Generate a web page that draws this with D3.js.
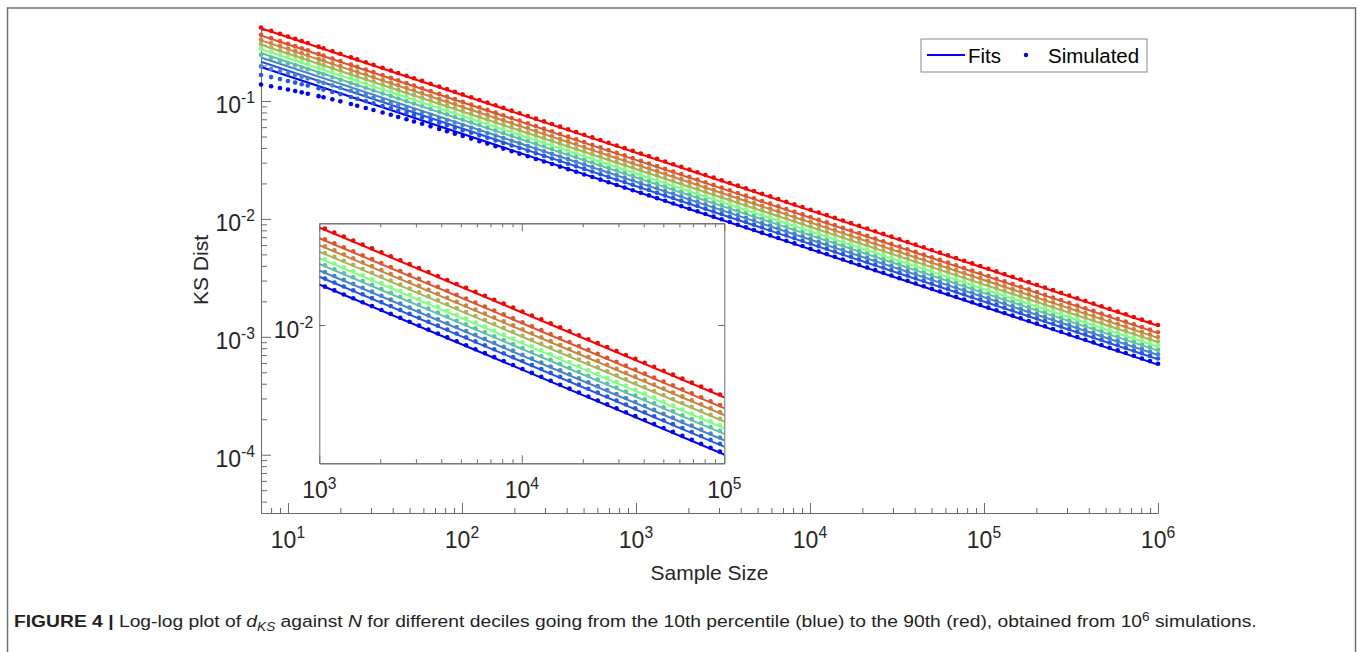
<!DOCTYPE html>
<html><head><meta charset="utf-8">
<script src="https://cdn.jsdelivr.net/npm/d3@7"></script>
<style>
body{margin:0;background:#fff;}
svg{display:block;}
text{font-family:"Liberation Sans",Arial,Helvetica,sans-serif;fill:#262626;}
</style></head><body>
<svg id="chart" width="1357" height="652"></svg>
<script>
// ---------------- data ----------------
const sampleSizes = [7,8,9,10,11,12,13,15,16,18,20,23,25,28,31,35,39,43,48,53,59,66,74,82,91,101,113,126,140,156,173,193,214,239,266,296,329,366,407,453,504,561,625,695,774,861,958,1066,1187,1321,1470,1636,1820,2026,2254,2509,2792,3107,3458,3848,4282,4766,5304,5902,6568,7310,8135,9053,10075,11212,12477,13885,15452,17196,19137,21297,23701,26376,29353,32666,36353,40456,45022,50104,55759,62052,69056,76850,85524,95177,105920,117870,131180,145980,162460,180790,201200,223910,249180,277300,308600,343400,382200,425300,473300,526700,586200,652300,726000,807900,899100,1000000];

const decileNames = ["10th","20th","30th","40th","50th","60th","70th","80th","90th"];
const decileColors = ["#0000ff","#2457e6","#4785c8","#5cbfa6","#80ff80","#aab35c","#c9853f","#e0532c","#ff0000"];

// fitted power laws, read at the two ends of the N range
const fitN = [7, 1000000];
const fitAtMinN = [0.194,0.215,0.234,0.255,0.275,0.300,0.327,0.359,0.414];
const fitAtMaxN = [5.81e-4,6.45e-4,7.01e-4,7.63e-4,8.23e-4,8.99e-4,9.80e-4,1.074e-3,1.240e-3];

// simulated deciles, stored as sqrt(N) * d_KS
const sim10 = [.365,.377,.387,.396,.403,.410,.416,.426,.430,.438,.444,.452,.456,.462,.467,.472,.477,.480,.485,.488,.492,.495,.499,.502,.504,.507,.510,.512,.515,.517,.519,.521,.523,.525,.526,.528,.530,.531,.533,.534,.535,.537,.538,.539,.540,.541,.542,.543,.545,.545,.547,.547,.548,.549,.550,.551,.552,.553,.553,.554,.555,.556,.557,.557,.558,.558,.559,.560,.560,.561,.562,.563,.563,.564,.565,.565,.566,.567,.567,.568,.569,.570,.570,.571,.572,.572,.573,.574,.574,.575,.575,.577,.577,.578,.579,.579,.580,.581,.581,.582,.583,.584,.584,.585,.586,.586,.587,.588,.588,.589,.590,.590];
const sim20 = [.439,.451,.460,.468,.475,.481,.487,.496,.500,.506,.512,.519,.523,.528,.533,.537,.542,.545,.549,.552,.555,.559,.562,.564,.567,.569,.572,.574,.576,.578,.580,.582,.584,.586,.587,.589,.590,.592,.593,.594,.596,.597,.598,.599,.601,.602,.603,.604,.605,.606,.607,.608,.609,.610,.611,.612,.612,.613,.614,.615,.616,.617,.618,.618,.619,.620,.620,.621,.622,.622,.623,.624,.625,.626,.627,.627,.628,.629,.629,.630,.631,.632,.633,.633,.634,.635,.636,.636,.637,.638,.638,.640,.640,.641,.642,.642,.643,.644,.645,.645,.646,.647,.648,.648,.649,.650,.650,.651,.652,.653,.653,.654];
const sim30 = [.520,.529,.537,.544,.550,.555,.560,.567,.570,.576,.580,.586,.589,.594,.597,.601,.604,.607,.611,.613,.616,.619,.621,.624,.626,.628,.630,.632,.634,.635,.637,.639,.640,.642,.643,.645,.646,.647,.649,.650,.651,.652,.653,.655,.656,.657,.658,.659,.660,.661,.662,.663,.664,.664,.665,.666,.667,.668,.669,.670,.670,.672,.673,.674,.674,.675,.676,.677,.677,.678,.679,.680,.681,.682,.682,.683,.684,.685,.686,.686,.687,.688,.689,.690,.691,.691,.692,.693,.694,.694,.695,.696,.697,.698,.698,.699,.700,.701,.702,.702,.703,.704,.705,.706,.706,.707,.708,.709,.709,.710,.711,.712];
const sim40 = [.653,.657,.660,.662,.665,.667,.669,.672,.673,.675,.677,.679,.681,.683,.684,.686,.687,.689,.690,.692,.693,.694,.696,.697,.698,.699,.700,.702,.703,.704,.705,.706,.707,.708,.709,.710,.711,.712,.713,.714,.715,.716,.717,.718,.718,.719,.720,.721,.722,.722,.723,.725,.726,.727,.728,.728,.729,.730,.731,.732,.732,.733,.734,.735,.736,.737,.738,.738,.739,.740,.741,.742,.743,.743,.744,.745,.746,.747,.748,.748,.749,.750,.751,.752,.753,.753,.754,.755,.756,.757,.758,.759,.759,.760,.761,.762,.763,.764,.765,.765,.766,.767,.768,.769,.770,.771,.771,.772,.773,.774,.775,.776];
const sim50 = [.738,.739,.740,.741,.742,.743,.743,.744,.745,.746,.747,.748,.748,.749,.750,.751,.752,.753,.754,.754,.755,.756,.757,.758,.759,.760,.760,.761,.762,.763,.764,.765,.766,.766,.767,.768,.769,.770,.771,.772,.772,.773,.774,.775,.776,.777,.778,.779,.779,.780,.781,.782,.783,.784,.785,.786,.786,.787,.788,.789,.790,.791,.792,.793,.794,.794,.795,.796,.797,.798,.799,.800,.801,.802,.802,.803,.804,.805,.806,.807,.808,.809,.810,.811,.812,.812,.813,.814,.815,.816,.817,.818,.819,.820,.821,.822,.823,.824,.824,.825,.826,.827,.828,.829,.830,.831,.832,.833,.834,.835,.836,.837];
const sim60 = [.806,.807,.808,.808,.809,.810,.811,.812,.813,.814,.815,.816,.817,.818,.818,.819,.820,.821,.822,.823,.824,.825,.826,.827,.828,.829,.830,.830,.831,.832,.833,.834,.835,.836,.837,.838,.839,.840,.841,.842,.843,.844,.845,.846,.847,.847,.848,.849,.850,.851,.852,.853,.854,.855,.856,.857,.858,.859,.860,.861,.862,.863,.864,.865,.866,.867,.868,.869,.870,.871,.872,.873,.874,.875,.876,.877,.878,.878,.879,.880,.881,.882,.883,.884,.885,.886,.887,.888,.889,.890,.891,.892,.893,.894,.895,.896,.897,.898,.899,.900,.901,.902,.903,.904,.905,.906,.907,.908,.909,.910,.912,.913];
const sim70 = [.878,.879,.880,.881,.882,.883,.884,.885,.886,.887,.888,.889,.890,.891,.892,.893,.894,.895,.896,.897,.898,.899,.900,.901,.902,.903,.904,.905,.906,.907,.908,.909,.910,.912,.913,.914,.915,.916,.917,.918,.919,.920,.921,.922,.923,.924,.925,.926,.927,.928,.929,.930,.931,.932,.933,.934,.935,.936,.937,.938,.939,.940,.941,.942,.943,.945,.946,.947,.948,.949,.950,.951,.952,.953,.954,.955,.956,.957,.958,.960,.961,.962,.963,.964,.965,.966,.967,.968,.969,.971,.972,.973,.974,.975,.976,.977,.978,.979,.980,.981,.983,.984,.985,.986,.987,.988,.989,.990,.991,.992,.994,.995];
const sim80 = [.964,.965,.966,.967,.968,.969,.971,.972,.973,.974,.975,.976,.977,.978,.979,.980,.982,.983,.984,.985,.986,.987,.988,.989,.990,.991,.993,.994,.995,.996,.997,.998,.999,1.000,1.001,1.003,1.004,1.005,1.006,1.007,1.008,1.009,1.010,1.012,1.013,1.014,1.015,1.016,1.017,1.019,1.020,1.021,1.022,1.023,1.024,1.026,1.027,1.028,1.029,1.030,1.031,1.032,1.034,1.035,1.036,1.037,1.038,1.039,1.041,1.042,1.043,1.044,1.045,1.046,1.048,1.049,1.050,1.051,1.052,1.054,1.055,1.056,1.057,1.058,1.060,1.061,1.062,1.063,1.064,1.066,1.067,1.068,1.069,1.070,1.072,1.073,1.074,1.075,1.076,1.078,1.079,1.080,1.081,1.083,1.084,1.085,1.086,1.087,1.089,1.090,1.091,1.092];
const sim90 = [1.112,1.113,1.114,1.116,1.117,1.118,1.119,1.120,1.121,1.123,1.124,1.125,1.127,1.128,1.129,1.130,1.132,1.133,1.134,1.136,1.137,1.138,1.140,1.141,1.142,1.143,1.145,1.146,1.147,1.149,1.150,1.151,1.153,1.154,1.155,1.156,1.158,1.159,1.160,1.162,1.163,1.164,1.166,1.167,1.168,1.169,1.171,1.172,1.173,1.175,1.176,1.177,1.179,1.180,1.181,1.182,1.184,1.185,1.186,1.188,1.189,1.190,1.192,1.193,1.195,1.196,1.197,1.199,1.200,1.201,1.203,1.204,1.205,1.207,1.208,1.209,1.211,1.212,1.213,1.215,1.216,1.217,1.219,1.220,1.222,1.223,1.224,1.226,1.227,1.228,1.230,1.231,1.233,1.234,1.235,1.237,1.238,1.240,1.241,1.242,1.244,1.245,1.247,1.248,1.249,1.251,1.252,1.254,1.255,1.256,1.258,1.259];
const simScaled = [sim10,sim20,sim30,sim40,sim50,sim60,sim70,sim80,sim90];

// axes
const xLimits = [7, 1000000];
const yLimits = [0.4243, 3.203e-5];
const xTickValues = [1e1,1e2,1e3,1e4,1e5,1e6];
const xTickExponents = ["1","2","3","4","5","6"];
const yTickValues = [1e-1,1e-2,1e-3,1e-4];
const yTickExponents = ["-1","-2","-3","-4"];
const insetXLimits = [1000, 100000];
const insetYLimits = [0.03853, 1.597e-3];
const insetXTickValues = [1e3,1e4,1e5];
const insetXTickExponents = ["3","4","5"];
const insetYTickValues = [1e-2];
const insetYTickExponents = ["-2"];
const xLabel = "Sample Size";
const yLabel = "KS Dist";
const legendLabels = ["Fits","Simulated"];

// ---------------- drawing ----------------
const svg = d3.select("#chart");
const axisColor = "#6b6b6b";
const labelColor = "#262626";
const tickFont = 23;

svg.append("rect").attr("x",7.5).attr("y",8).attr("width",1348).attr("height",700)
  .attr("fill","none").attr("stroke","#707070").attr("stroke-width",1.5);

const M = {left:261, right:1158, top:27, bottom:513};
const x = d3.scaleLog().domain(xLimits).range([M.left, M.right]);
const y = d3.scaleLog().domain(yLimits).range([M.top, M.bottom]);

function minorTicks(scale, majors){
  return scale.ticks().filter(v => !majors.some(m => Math.abs(m - v) / m < 1e-9));
}
function styleAxis(g){
  g.selectAll("path,line").attr("stroke", axisColor).attr("stroke-width",1);
  g.selectAll("text").remove();
}
function expLabel(g, px, py, anchor, exp, size){
  const t = g.append("text").attr("x",px).attr("y",py).attr("text-anchor",anchor)
    .attr("font-size",size).style("fill",labelColor);
  t.append("tspan").text("10");
  t.append("tspan").attr("dy",-size*0.42).attr("font-size",size*0.68).text(exp);
  return t;
}

// main axes
const gAxes = svg.append("g");
gAxes.append("g").attr("transform",`translate(0,${M.bottom})`)
  .call(d3.axisBottom(x).tickValues(minorTicks(x, xTickValues)).tickSize(-5).tickSizeOuter(0)).call(styleAxis);
gAxes.append("g").attr("transform",`translate(0,${M.bottom})`)
  .call(d3.axisBottom(x).tickValues(xTickValues).tickSize(-10).tickSizeOuter(0)).call(styleAxis);
gAxes.append("g").attr("transform",`translate(${M.left},0)`)
  .call(d3.axisLeft(y).tickValues(minorTicks(y, yTickValues)).tickSize(-6).tickSizeOuter(0)).call(styleAxis);
gAxes.append("g").attr("transform",`translate(${M.left},0)`)
  .call(d3.axisLeft(y).tickValues(yTickValues).tickSize(-10).tickSizeOuter(0)).call(styleAxis);

xTickValues.forEach((v,i) => expLabel(svg, x(v), M.bottom+35, "middle", xTickExponents[i], tickFont));
yTickValues.forEach((v,i) => expLabel(svg, M.left-6, y(v)+12, "end", yTickExponents[i], tickFont));

svg.append("text").attr("x",(M.left+M.right)/2).attr("y",580).attr("text-anchor","middle")
  .attr("font-size",21).style("fill",labelColor).text(xLabel);
svg.append("text").attr("transform","translate(208,270) rotate(-90)").attr("text-anchor","middle")
  .attr("font-size",21).style("fill",labelColor).text(yLabel);

const lineGen = (xs, ys) => d3.line().x(d => xs(d[0])).y(d => ys(d[1]));

function drawSeries(g, xs, ys, filterN){
  simScaled.forEach((arr, i) => {
    const fitPts = [[fitN[0], fitAtMinN[i]], [fitN[1], fitAtMaxN[i]]];
    g.append("path").attr("d", lineGen(xs, ys)(fitPts)).attr("fill","none")
      .attr("stroke", decileColors[i]).attr("stroke-width",2);
    const pts = sampleSizes.map((n,k) => [n, arr[k] / Math.sqrt(n)]).filter(p => filterN(p[0]));
    g.selectAll(null).data(pts).enter().append("circle")
      .attr("cx", d => xs(d[0])).attr("cy", d => ys(d[1])).attr("r",2.3)
      .attr("fill", decileColors[i]);
  });
}
drawSeries(svg.append("g"), x, y, () => true);

// legend
const lg = svg.append("g");
lg.append("rect").attr("x",921).attr("y",39).attr("width",226).attr("height",33)
  .attr("fill","#fff").attr("stroke","#8a8a8a").attr("stroke-width",1);
lg.append("line").attr("x1",927).attr("x2",965).attr("y1",55).attr("y2",55)
  .attr("stroke",decileColors[0]).attr("stroke-width",2);
lg.append("text").attr("x",968).attr("y",63).attr("font-size",20.5).style("fill","#000").text(legendLabels[0]);
lg.append("circle").attr("cx",1026).attr("cy",55).attr("r",2.2).attr("fill",decileColors[0]);
lg.append("text").attr("x",1048).attr("y",63).attr("font-size",20.5).style("fill","#000").text(legendLabels[1]);

// inset
const I = {left:319.3, right:724.3, top:223.3, bottom:463.3};
const xi = d3.scaleLog().domain(insetXLimits).range([I.left, I.right]);
const yi = d3.scaleLog().domain(insetYLimits).range([I.top, I.bottom]);
const gi = svg.append("g");
gi.append("rect").attr("x",I.left).attr("y",I.top).attr("width",I.right-I.left).attr("height",I.bottom-I.top).attr("fill","#fff");
svg.append("clipPath").attr("id","insetClip").append("rect")
  .attr("x",I.left).attr("y",I.top).attr("width",I.right-I.left).attr("height",I.bottom-I.top);
drawSeries(gi.append("g").attr("clip-path","url(#insetClip)"), xi, yi, n => n >= insetXLimits[0] && n <= insetXLimits[1]);
const xiMinor = minorTicks(xi, insetXTickValues);
gi.append("g").attr("transform",`translate(0,${I.bottom})`).call(d3.axisBottom(xi).tickValues(xiMinor).tickSize(-4).tickSizeOuter(0)).call(styleAxis);
gi.append("g").attr("transform",`translate(0,${I.bottom})`).call(d3.axisBottom(xi).tickValues(insetXTickValues).tickSize(-8).tickSizeOuter(0)).call(styleAxis);
gi.append("g").attr("transform",`translate(0,${I.top})`).call(d3.axisTop(xi).tickValues(xiMinor).tickSize(-4).tickSizeOuter(0)).call(styleAxis);
gi.append("g").attr("transform",`translate(0,${I.top})`).call(d3.axisTop(xi).tickValues(insetXTickValues).tickSize(-8).tickSizeOuter(0)).call(styleAxis);
gi.append("g").attr("transform",`translate(${I.left},0)`).call(d3.axisLeft(yi).tickValues(insetYTickValues).tickSize(-6).tickSizeOuter(0)).call(styleAxis);
gi.append("g").attr("transform",`translate(${I.right},0)`).call(d3.axisRight(yi).tickValues(insetYTickValues).tickSize(-6).tickSizeOuter(0)).call(styleAxis);
insetXTickValues.forEach((v,i) => expLabel(svg, xi(v), I.bottom+35, "middle", insetXTickExponents[i], tickFont));
insetYTickValues.forEach((v,i) => expLabel(svg, I.left-6, yi(v)+13, "end", insetYTickExponents[i], tickFont));

// caption
const cap = svg.append("text").attr("x",0).attr("y",0).attr("font-size",17)
  .style("font-family",'"Liberation Sans Narrow","Arial Narrow","Liberation Sans",sans-serif').style("fill","#231f20");
cap.append("tspan").attr("font-weight","bold").text("FIGURE 4 | ");
cap.append("tspan").text("Log-log plot of ");
cap.append("tspan").attr("font-style","italic").text("d");
cap.append("tspan").attr("font-style","italic").attr("font-size",12).attr("dy",4).text("KS");
cap.append("tspan").attr("dy",-4).text(" against ");
cap.append("tspan").attr("font-style","italic").text("N");
cap.append("tspan").text(" for different deciles going from the 10th percentile (blue) to the 90th (red), obtained from 10");
cap.append("tspan").attr("font-size",12).attr("dy",-6).text("6");
cap.append("tspan").attr("dy",6).text(" simulations.");
const cw = cap.node().getComputedTextLength();
cap.attr("transform",`translate(14,627) scale(${1244/cw},1)`);
</script>
</body></html>
